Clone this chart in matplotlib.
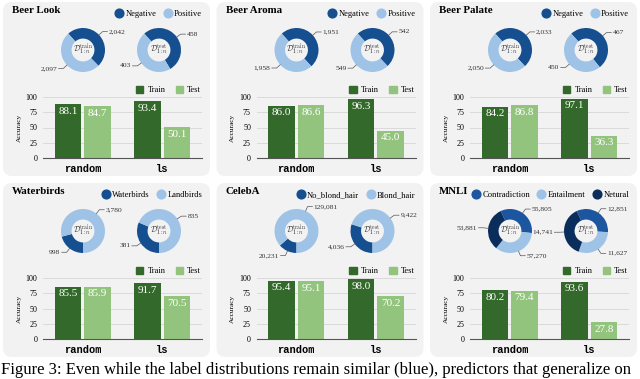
import numpy as np
import matplotlib.pyplot as plt
from matplotlib.patches import FancyBboxPatch, Patch
from matplotlib.lines import Line2D

plt.rcParams['font.family'] = ['Liberation Serif', 'DejaVu Serif']
plt.rcParams['mathtext.fontset'] = 'cm'

# data
titles = ['Beer Look', 'Beer Aroma', 'Beer Palate', 'Waterbirds', 'CelebA', 'MNLI']
class_names = [['Negative', 'Positive'],
               ['Negative', 'Positive'],
               ['Negative', 'Positive'],
               ['Waterbirds', 'Landbirds'],
               ['No_blond_hair', 'Blond_hair'],
               ['Contradiction', 'Entailment', 'Netural']]
train_counts = [[2042, 2097], [1951, 1958], [2033, 2050],
                [998, 3780], [20231, 129081], [55805, 57270, 53881]]
test_counts = [[458, 403], [542, 549], [467, 450],
               [381, 835], [4036, 9422], [12851, 11627, 14741]]
methods = ['random', 'ls']
acc_train = [[88.1, 93.4], [86.0, 96.3], [84.2, 97.1],
             [85.5, 91.7], [95.4, 98.0], [80.2, 93.6]]
acc_test = [[84.7, 50.1], [86.6, 45.0], [86.8, 36.3],
            [85.9, 70.5], [95.1, 70.2], [79.4, 27.8]]

# styling
DARK_BLUE = '#154f8f'
LIGHT_BLUE = '#9fc3e6'
NAVY = '#0a2d5c'
MID_BLUE = '#1c56a0'
class_colors = [[DARK_BLUE, LIGHT_BLUE]] * 5 + [[MID_BLUE, LIGHT_BLUE, NAVY]]
start_angles = [132, 132, 132, -90, -90, 115]
TRAIN_GREEN = '#33692a'
TEST_GREEN = '#93c47d'
PANEL_BG = '#f2f2f2'

W, H = 640, 379
fig = plt.figure(figsize=(W / 100, H / 100), dpi=100)


def px_box(x, y, w, h):
    return [x / W, 1 - (y + h) / H, w / W, h / H]


col_x = [3, 216.5, 430]
row_y = [2, 183]
PW, PH = 207, 174
R = 22  # donut outer radius in px


def draw_donut(x0, y0, cx, cy, vals, colors, start, tag):
    bw, bh = 110, 64
    ax = fig.add_axes(px_box(x0 + cx - bw / 2, y0 + cy - bh / 2, bw, bh))
    wedges, _ = ax.pie(vals, radius=1, startangle=start, counterclock=False,
                       colors=colors, wedgeprops=dict(width=0.48, edgecolor='none'))
    ax.set_xlim(-bw / 2 / R, bw / 2 / R)
    ax.set_ylim(-bh / 2 / R, bh / 2 / R)
    ax.set_aspect('equal', adjustable='datalim')
    ax.axis('off')
    ax.text(0, 0.02, r'$\mathcal{D}^{\mathrm{%s}}_{1:n}$' % tag,
            ha='center', va='center', fontsize=5.8, color='#333333')
    for wdg, v in zip(wedges, vals):
        mid = np.radians((wdg.theta1 + wdg.theta2) / 2)
        c, s = np.cos(mid), np.sin(mid)
        sgn = 1 if c >= 0 else -1
        p0 = (1.0 * c, 1.0 * s)
        p1 = (1.22 * c, 1.22 * s)
        p2 = (p1[0] + sgn * 0.22, p1[1])
        ax.plot([p0[0], p1[0], p2[0]], [p0[1], p1[1], p2[1]],
                color='#555555', lw=0.5, clip_on=False)
        ax.text(p2[0] + sgn * 0.06, p2[1], f'{v:,}', fontsize=5.4,
                ha='left' if sgn > 0 else 'right', va='center', color='#333333')


for i in range(6):
    x0 = col_x[i % 3]
    y0 = row_y[i // 3]
    fig.add_artist(FancyBboxPatch((x0 / 100, (H - y0 - PH) / 100), PW / 100, PH / 100,
                                  boxstyle='round,pad=0,rounding_size=0.09',
                                  transform=fig.dpi_scale_trans,
                                  fc=PANEL_BG, ec='none', zorder=0))

    pax = fig.add_axes(px_box(x0, y0, PW, PH))
    pax.set_xlim(0, PW)
    pax.set_ylim(PH, 0)
    pax.axis('off')
    pax.text(9, 8.5, titles[i], fontsize=7.8, fontweight='bold', ha='left', va='center')

    # class legend (top right)
    handles = [Line2D([], [], marker='o', ls='', color=c, markersize=6.3)
               for c in class_colors[i]]
    cls_leg = pax.legend(handles, class_names[i], ncol=len(handles), loc='center right',
                         bbox_to_anchor=(199 / PW, 1 - 12 / PH), frameon=False, fontsize=6.1,
                         handlelength=0.9, handletextpad=0.3, columnspacing=0.9,
                         borderpad=0, borderaxespad=0)
    pax.add_artist(cls_leg)

    draw_donut(x0, y0, 80, 48, train_counts[i], class_colors[i], start_angles[i], 'train')
    draw_donut(x0, y0, 156, 48, test_counts[i], class_colors[i], start_angles[i], 'test')

    # accuracy bars
    bax = fig.add_axes(px_box(x0 + 40, y0 + 95, 159, 61))
    bax.set_facecolor('none')
    xs = np.arange(len(methods))
    bw = 0.33
    bars_tr = bax.bar(xs - 0.185, acc_train[i], bw, color=TRAIN_GREEN, label='Train', zorder=3)
    bars_te = bax.bar(xs + 0.185, acc_test[i], bw, color=TEST_GREEN, label='Test', zorder=3)
    for bars in (bars_tr, bars_te):
        for b in bars:
            v = b.get_height()
            bax.text(b.get_x() + b.get_width() / 2, v - 11.5, f'{v:.1f}',
                     ha='center', va='center', color='white', fontsize=8, zorder=4)
    bax.set_xlim(-0.5, 1.5)
    bax.set_ylim(0, 100)
    bax.set_yticks([0, 25, 50, 75, 100])
    bax.tick_params(axis='y', length=0, labelsize=5.8, pad=4)
    bax.tick_params(axis='x', length=0, pad=4)
    bax.set_xticks(xs)
    bax.set_xticklabels(methods, family='Liberation Mono', fontweight='bold', fontsize=7.5)
    bax.yaxis.grid(True, color='#d6d6d6', lw=0.6)
    bax.set_axisbelow(True)
    for sp in ('top', 'right', 'left'):
        bax.spines[sp].set_visible(False)
    bax.spines['bottom'].set_color('#555555')
    bax.spines['bottom'].set_linewidth(0.8)
    bax.spines['bottom'].set_zorder(5)
    bax.set_ylabel('Accuracy', fontsize=5.3, labelpad=3)

    leg_h = [Patch(color=TRAIN_GREEN), Patch(color=TEST_GREEN)]
    pax.legend(leg_h, ['Train', 'Test'], ncol=2, loc='center right',
               bbox_to_anchor=(198 / PW, 1 - 88 / PH), frameon=False, fontsize=6.0,
               handlelength=0.9, handleheight=0.9, handletextpad=0.5, columnspacing=1.2,
               borderpad=0, borderaxespad=0)

fig.text(1 / W, 1 - 370 / H,
         'Figure 3: Even while the label distributions remain similar (blue), '
         'predictors that generalize on',
         fontsize=12.0, ha='left', va='center')

fig.savefig('out.png', dpi=100)
